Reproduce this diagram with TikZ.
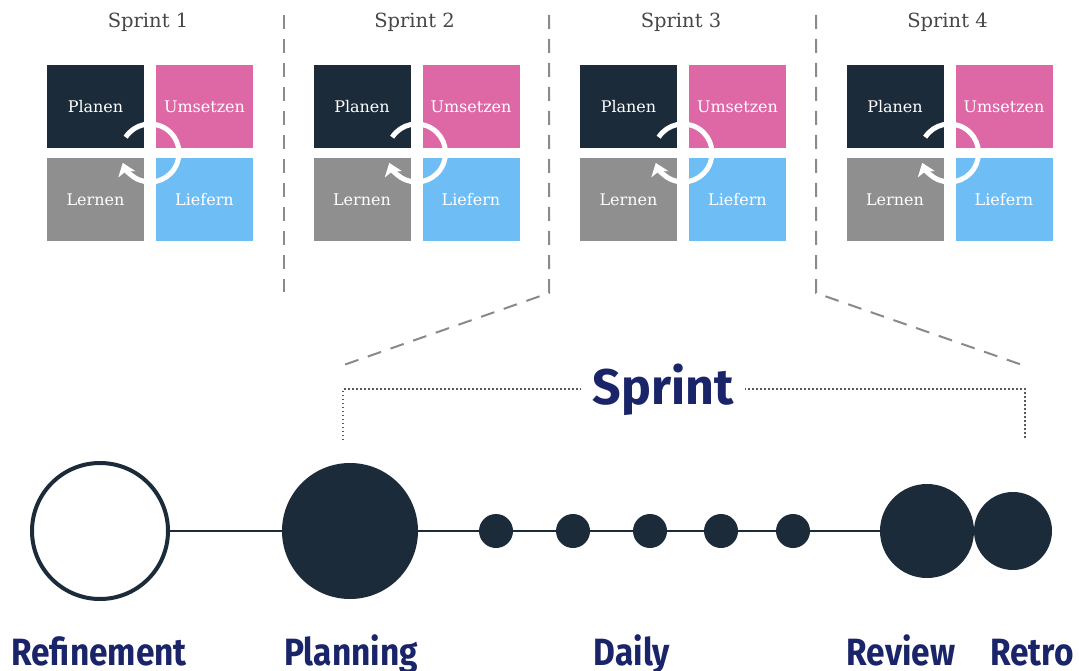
\documentclass[tikz,border=0pt]{standalone}
\usepackage{fontspec}
\setmainfont{DejaVu Serif}
\newfontfamily\labelfont{Fira Sans}
\usetikzlibrary{positioning,arrows.meta,calc}

\definecolor{plancol}{HTML}{1B2B3A}
\definecolor{umscol}{HTML}{DE67A6}
\definecolor{lerncol}{HTML}{8F8F8F}
\definecolor{liefcol}{HTML}{6EBDF5}
\definecolor{navy}{HTML}{1A2468}
\definecolor{cutgray}{HTML}{8A8A8A}

\begin{document}
\begin{tikzpicture}[x=1pt,y=1pt,node distance=93pt and 109pt,on grid,
  phase/.style={minimum width=97pt,minimum height=83pt,inner sep=0pt,text=white,
    font=\fontsize{16}{16}\selectfont},
  sprintlabel/.style={anchor=base,text=black!72,font=\fontsize{19.5}{19.5}\selectfont},
  loopround/.style={white,line width=5pt,-{Stealth[length=12pt,width=18pt,inset=3pt]}},
  cutline/.style={cutgray,line width=2pt,dash pattern=on 14pt off 10pt},
  bracket/.style={black!65,line width=1.6pt,dash pattern=on 1.5pt off 2.5pt},
  bigdot/.style={circle,fill=plancol,inner sep=0pt},
  opendot/.style={circle,draw=plancol,line width=4pt,fill=white,inner sep=0pt,minimum size=136pt},
  steplabel/.style={anchor=base,text=navy,font=\labelfont\bfseries\fontsize{38}{38}\selectfont},
  sprinttitle/.style={fill=white,inner xsep=12pt,text=navy,font=\labelfont\bfseries\fontsize{50}{50}\selectfont}]
\fill[white] (0,0) rectangle (1079,-671);
\useasboundingbox (0,0) rectangle (1079,-671);

% the four sprints
\foreach \i in {1,...,4} {
  \node[phase,fill=plancol] (plan_\i) at ({95.5+266.5*(\i-1)},-106.5) {Planen};
  \node[phase,fill=umscol] (ums_\i) [right=of plan_\i] {Umsetzen};
  \node[phase,fill=lerncol] (lern_\i) [below=of plan_\i] {Lernen};
  \node[phase,fill=liefcol] (lief_\i) [below=of ums_\i] {Liefern};
  \coordinate (mid_\i) at ($(plan_\i)!0.5!(lief_\i)$);
  \node[sprintlabel] (title_\i) at ($(mid_\i)+(-2,125)$) {Sprint \i};
  \draw[loopround] ($(mid_\i)+(147:29)$) arc[start angle=147,end angle=-160,radius=29];
}

% separators
\coordinate (cut_1) at (284,-15);
\coordinate (foot_1) at (284,-292);
\coordinate (cut_2) at (549,-15);
\coordinate (bend_2) at (549,-293);
\coordinate (foot_2) at (338,-367);
\coordinate (cut_3) at (816,-15);
\coordinate (bend_3) at (816,-293);
\coordinate (foot_3) at (1028,-367);
\draw[cutline] (cut_1) -- (foot_1);
\draw[cutline] (cut_2) -- (bend_2) -- (foot_2);
\draw[cutline] (cut_3) -- (bend_3) -- (foot_3);

% timeline
\node[opendot] (refine) at (100,-531) {};
\node[bigdot,minimum size=136pt] (planning) at (350,-531) {};
\foreach \x [count=\k] in {496,573,650,721,793}
  \node[bigdot,minimum size=34pt] (d_\k) at (\x,-531) {};
\node[bigdot,minimum size=94pt] (review) at (927,-531) {};
\node[bigdot,minimum size=78pt] (retro) at (1013,-531) {};
\draw[plancol,line width=2.5pt] (refine) -- (retro);

% sprint bracket
\coordinate (br_l) at (343,-440);
\coordinate (br_r) at (1025,-440);
\draw[bracket] (br_l) -- ++(0,51) -| (br_r);
\node[sprinttitle] (sprint) at (663,-390) {Sprint};

\node[steplabel] (lab_refine) at (99,-665) {\scalebox{0.88}[1]{Refinement}};
\node[steplabel] (lab_planning) at (351,-665) {\scalebox{0.88}[1]{Planning}};
\node[steplabel] (lab_daily) at (632,-665) {\scalebox{0.88}[1]{Daily}};
\node[steplabel] (lab_review) at (901,-665) {\scalebox{0.88}[1]{Review}};
\node[steplabel] (lab_retro) at (1032,-665) {\scalebox{0.88}[1]{Retro}};
\end{tikzpicture}
\end{document}
